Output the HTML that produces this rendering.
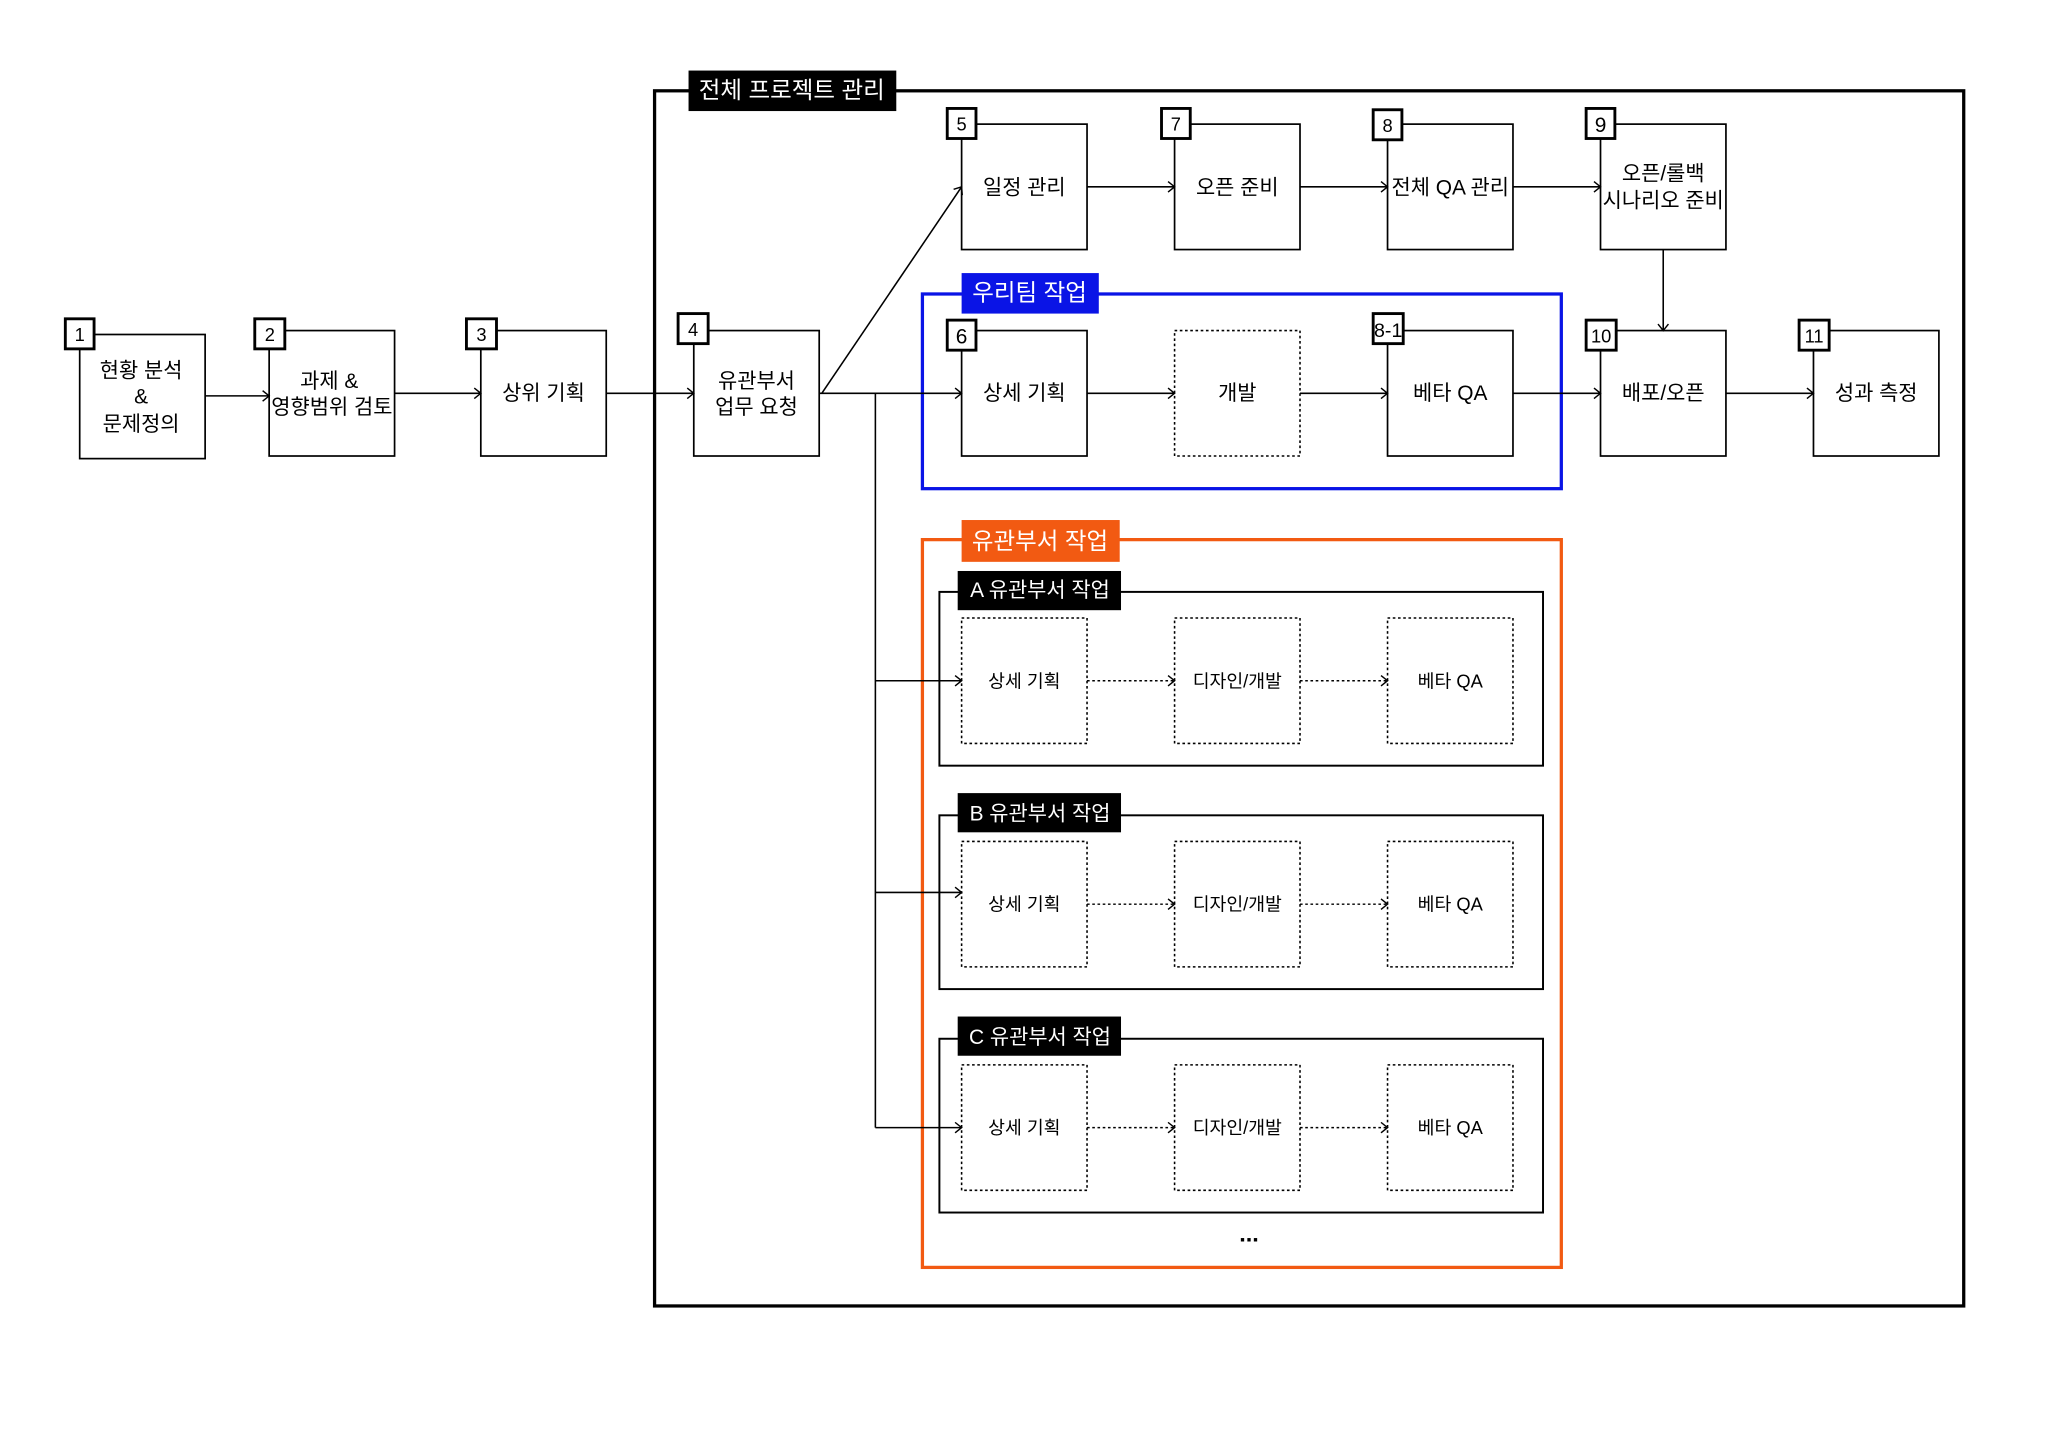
<!DOCTYPE html>
<html><head><meta charset="utf-8"><style>
html,body{margin:0;padding:0;background:#fff;}
svg{display:block;}
text{font-family:"Liberation Sans","Noto Sans CJK KR",sans-serif;fill:#000;}
</style></head><body>
<svg width="2048" height="1434" viewBox="0 0 1567.5 1097.5" preserveAspectRatio="none" xmlns="http://www.w3.org/2000/svg">
<defs>
<marker id="a" markerWidth="10" markerHeight="10" refX="8" refY="5" orient="auto" markerUnits="userSpaceOnUse">
<polyline points="3,1 8,5 3,9" fill="none" stroke="#000" stroke-width="1.1"/>
</marker>
</defs>
<rect width="1568" height="1098" fill="#fff"/>
<rect x="501" y="69.5" width="1002" height="930" fill="none" stroke="#000" stroke-width="2.5"/>
<rect x="527" y="54" width="159" height="31" fill="#000"/>
<text x="606" y="75" font-size="18" text-anchor="middle" style="fill:#fff">전체 프로젝트 관리</text>

<g fill="#fff" stroke="#000" stroke-width="1.3">
<rect x="61" y="256" width="96" height="95"/>
<rect x="206" y="253" width="96" height="96"/>
<rect x="368" y="253" width="96" height="96"/>
<rect x="531" y="253" width="96" height="96"/>
<rect x="736" y="95" width="96" height="96"/>
<rect x="899" y="95" width="96" height="96"/>
<rect x="1062" y="95" width="96" height="96"/>
<rect x="1225" y="95" width="96" height="96"/>
<rect x="1225" y="253" width="96" height="96"/>
<rect x="1388" y="253" width="96" height="96"/>
</g>
<rect x="706" y="225" width="489" height="149" fill="none" stroke="#0a14e6" stroke-width="2.5"/>
<rect x="736" y="209" width="105" height="31" fill="#0a14e6"/>
<text x="788" y="230" font-size="18" text-anchor="middle" style="fill:#fff">우리팀 작업</text>
<g fill="#fff" stroke="#000" stroke-width="1.3">
<rect x="736" y="253" width="96" height="96"/>
<rect x="1062" y="253" width="96" height="96"/>
</g>
<rect x="899" y="253" width="96" height="96" fill="none" stroke="#000" stroke-width="1.2" stroke-dasharray="2,2"/>
<rect x="706" y="413" width="489" height="557" fill="none" stroke="#f25a12" stroke-width="2.5"/>
<rect x="736" y="398" width="121" height="32" fill="#f25a12"/>
<text x="796" y="420" font-size="18" text-anchor="middle" style="fill:#fff">유관부서 작업</text>

<rect x="719" y="453" width="462" height="133" fill="none" stroke="#000" stroke-width="1.5"/>
<rect x="733" y="437" width="125" height="30" fill="#000"/>
<text x="796" y="457" font-size="16" text-anchor="middle" style="fill:#fff">A 유관부서 작업</text>
<rect x="719" y="624" width="462" height="133" fill="none" stroke="#000" stroke-width="1.5"/>
<rect x="733" y="607" width="125" height="30" fill="#000"/>
<text x="796" y="628" font-size="16" text-anchor="middle" style="fill:#fff">B 유관부서 작업</text>
<rect x="719" y="795" width="462" height="133" fill="none" stroke="#000" stroke-width="1.5"/>
<rect x="733" y="778" width="125" height="30" fill="#000"/>
<text x="796" y="799" font-size="16" text-anchor="middle" style="fill:#fff">C 유관부서 작업</text>

<g fill="none" stroke="#000" stroke-width="1.2" stroke-dasharray="2,2">
<rect x="736" y="473" width="96" height="96"/><rect x="899" y="473" width="96" height="96"/><rect x="1062" y="473" width="96" height="96"/>
<rect x="736" y="644" width="96" height="96"/><rect x="899" y="644" width="96" height="96"/><rect x="1062" y="644" width="96" height="96"/>
<rect x="736" y="815" width="96" height="96"/><rect x="899" y="815" width="96" height="96"/><rect x="1062" y="815" width="96" height="96"/>
</g>
<g fill="none" stroke="#000" stroke-width="1.1" stroke-dasharray="2,2">
<line x1="832" y1="521" x2="899" y2="521" marker-end="url(#a)"/><line x1="995" y1="521" x2="1062" y2="521" marker-end="url(#a)"/>
<line x1="832" y1="692" x2="899" y2="692" marker-end="url(#a)"/><line x1="995" y1="692" x2="1062" y2="692" marker-end="url(#a)"/>
<line x1="832" y1="863" x2="899" y2="863" marker-end="url(#a)"/><line x1="995" y1="863" x2="1062" y2="863" marker-end="url(#a)"/>
</g>
<g font-size="14" text-anchor="middle">
<text x="784" y="526">상세 기획</text><text x="947" y="526">디자인/개발</text><text x="1110" y="526">베타 QA</text>
<text x="784" y="697">상세 기획</text><text x="947" y="697">디자인/개발</text><text x="1110" y="697">베타 QA</text>
<text x="784" y="868">상세 기획</text><text x="947" y="868">디자인/개발</text><text x="1110" y="868">베타 QA</text>
</g>
<text x="956" y="950" font-size="18" font-weight="bold" text-anchor="middle">...</text>

<g fill="none" stroke="#000" stroke-width="1.2">
<line x1="157" y1="303" x2="206" y2="303" marker-end="url(#a)"/>
<line x1="302" y1="301" x2="368" y2="301" marker-end="url(#a)"/>
<line x1="464" y1="301" x2="531" y2="301" marker-end="url(#a)"/>
<line x1="629" y1="301" x2="736" y2="143" marker-end="url(#a)"/>
<line x1="627" y1="301" x2="736" y2="301" marker-end="url(#a)"/>
<line x1="832" y1="143" x2="899" y2="143" marker-end="url(#a)"/>
<line x1="995" y1="143" x2="1062" y2="143" marker-end="url(#a)"/>
<line x1="1158" y1="143" x2="1225" y2="143" marker-end="url(#a)"/>
<line x1="1273" y1="191" x2="1273" y2="253" marker-end="url(#a)"/>
<line x1="832" y1="301" x2="899" y2="301" marker-end="url(#a)"/>
<line x1="995" y1="301" x2="1062" y2="301" marker-end="url(#a)"/>
<line x1="1158" y1="301" x2="1225" y2="301" marker-end="url(#a)"/>
<line x1="1321" y1="301" x2="1388" y2="301" marker-end="url(#a)"/>
<line x1="670" y1="301" x2="670" y2="863"/>
<line x1="670" y1="521" x2="736" y2="521" marker-end="url(#a)"/>
<line x1="670" y1="683" x2="736" y2="683" marker-end="url(#a)"/>
<line x1="670" y1="863" x2="736" y2="863" marker-end="url(#a)"/>
</g>

<g font-size="16" text-anchor="middle">
<text x="108" y="289">현황 분석</text><text x="108" y="309">&amp;</text><text x="108" y="330">문제정의</text>
<text x="252" y="297">과제 &amp;</text><text x="254" y="317">영향범위 검토</text>
<text x="416" y="306">상위 기획</text>
<text x="579" y="297">유관부서</text><text x="579" y="317">업무 요청</text>
<text x="784" y="149">일정 관리</text>
<text x="947" y="149">오픈 준비</text>
<text x="1110" y="149">전체 QA 관리</text>
<text x="1273" y="138">오픈/롤백</text><text x="1273" y="159">시나리오 준비</text>
<text x="784" y="306">상세 기획</text>
<text x="947" y="306">개발</text>
<text x="1110" y="306">베타 QA</text>
<text x="1273" y="306">배포/오픈</text>
<text x="1436" y="306">성과 측정</text>
</g>

<g fill="#fff" stroke="#000" stroke-width="2.2">
<rect x="50" y="244" width="22" height="23"/>
<rect x="195" y="244" width="23" height="23"/>
<rect x="357" y="244" width="23" height="23"/>
<rect x="519" y="240" width="23" height="23"/>
<rect x="725" y="83" width="22" height="23"/>
<rect x="889" y="83" width="22" height="23"/>
<rect x="1051" y="84" width="22" height="23"/>
<rect x="1214" y="83" width="22" height="23"/>
<rect x="725" y="245" width="22" height="23"/>
<rect x="1051" y="240" width="23" height="23"/>
<rect x="1214" y="245" width="23" height="23"/>
<rect x="1377" y="245" width="23" height="23"/>
</g>
<g font-size="14" text-anchor="middle">
<text x="61" y="261">1</text><text x="206.5" y="261">2</text><text x="368.5" y="261">3</text><text x="530.5" y="257">4</text>
<text x="736" y="100">5</text><text x="900" y="100">7</text><text x="1062" y="101">8</text><text x="1225" y="101" font-size="16">9</text>
<text x="736" y="263" font-size="16">6</text><text x="1062.5" y="258" font-size="15">8-1</text>
<text x="1225.5" y="262">10</text><text x="1388.5" y="262">11</text>
</g>
</svg>
</body></html>
